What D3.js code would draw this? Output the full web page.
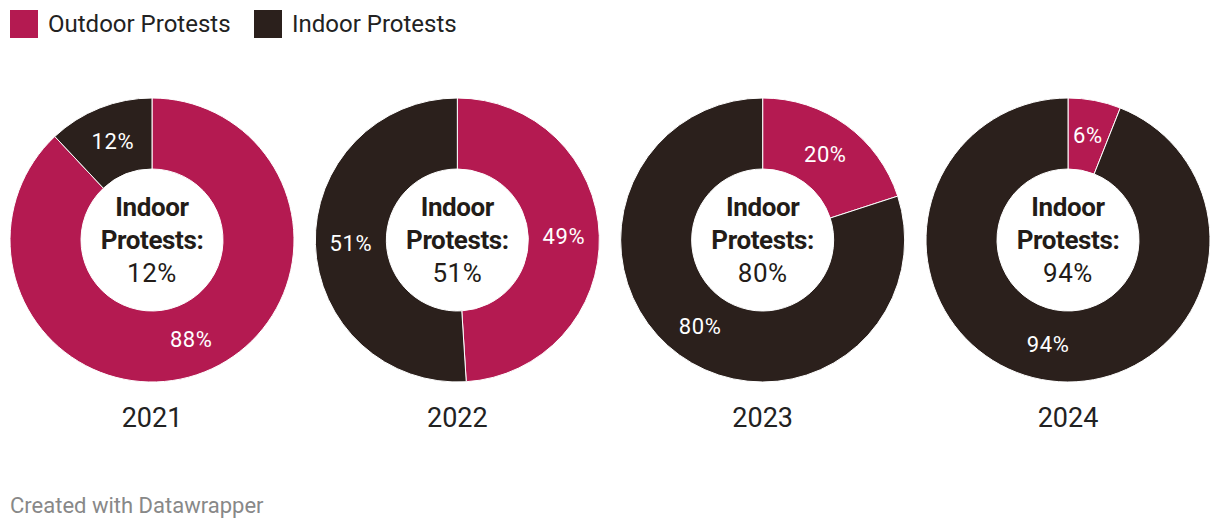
<!DOCTYPE html>
<html><head><meta charset="utf-8">
<script src="https://cdn.jsdelivr.net/npm/d3@7"></script>
<style>
body{margin:0;background:#fff;font-family:Roboto,sans-serif;}
svg{display:block}
</style></head>
<body><svg id="c" width="1220" height="530"></svg>
<script>
const years = ["2021","2022","2023","2024"];
const outdoor = [88,49,20,6];
const indoor = [12,51,80,94];
const seriesNames = ["Outdoor Protests","Indoor Protests"];
const colors = ["#b41a51","#2b201c"];
const centerTitle = ["Indoor","Protests:"];
const footer = "Created with Datawrapper";

const svg = d3.select("#c");
// legend
const leg = svg.append("g");
const legX = [10,254];
seriesNames.forEach((n,i)=>{
  leg.append("rect").attr("x",legX[i]).attr("y",10).attr("width",28).attr("height",28).attr("fill",colors[i]);
  leg.append("text").attr("x",legX[i]+38).attr("y",32).attr("font-size",24).attr("fill","#222").text(n);
});

const x = d3.scalePoint().domain(years).range([152,1068]);
const R = 142, r = 71, cy = 240;
const pie = d3.pie().sort(null).value(d=>d.v);
const arc = d3.arc().outerRadius(R).innerRadius(r);
const labelArc = d3.arc().outerRadius((R+r)/2).innerRadius((R+r)/2);

years.forEach((y,i)=>{
  const g = svg.append("g").attr("transform",`translate(${x(y)},${cy})`);
  const data = [{k:0,v:outdoor[i]},{k:1,v:indoor[i]}];
  const arcs = pie(data);
  g.selectAll("path").data(arcs).join("path")
    .attr("d",arc).attr("fill",d=>colors[d.data.k])
    .attr("stroke","#fff").attr("stroke-width",1);
  g.selectAll("text.pct").data(arcs).join("text").attr("class","pct")
    .attr("transform",d=>`translate(${labelArc.centroid(d)})`)
    .attr("text-anchor","middle").attr("dy","0.35em")
    .attr("font-size",22).attr("letter-spacing",0.6).attr("fill","#fff")
    .text(d=>d.data.v+"%");
  g.append("text").attr("text-anchor","middle").attr("y",-24).attr("font-size",26).attr("letter-spacing",-0.4).attr("font-weight",700).attr("fill","#231c18").text(centerTitle[0]);
  g.append("text").attr("text-anchor","middle").attr("y",9).attr("font-size",26).attr("letter-spacing",-0.4).attr("font-weight",700).attr("fill","#231c18").text(centerTitle[1]);
  g.append("text").attr("text-anchor","middle").attr("y",42).attr("font-size",26).attr("letter-spacing",0.5).attr("fill","#231c18").text(indoor[i]+"%");
  svg.append("text").attr("x",x(y)).attr("y",427).attr("text-anchor","middle").attr("font-size",27).attr("fill","#222").text(y);
});
svg.append("text").attr("x",10).attr("y",513).attr("font-size",22).attr("fill","#888").text(footer);
</script></body></html>
